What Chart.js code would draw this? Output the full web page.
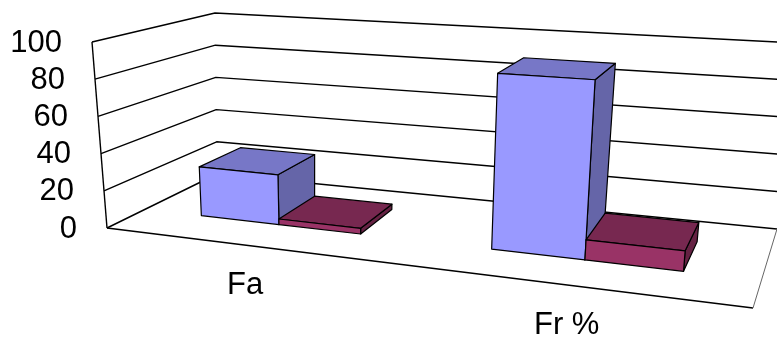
<!DOCTYPE html>
<html><head><meta charset="utf-8">
<script src="https://cdn.jsdelivr.net/npm/chart.js@4.4.0/dist/chart.umd.min.js"></script>
<style>html,body{margin:0;padding:0;background:#fff;}#wrap{width:777px;height:343px;}</style>
</head><body><div id="wrap"><canvas id="c" width="777" height="343"></canvas></div>
<script>
// ---- data ----
const categories = ['Fa', 'Fr %'];
const seriesBlue = [27, 90];
const seriesMagenta = [3, 10];
const yTicks = [0, 20, 40, 60, 80, 100];

// ---- 3D box layout (screen corners of the plot cube) ----
const BOX = {
  FLB: [107, 228], FLT: [92, 42], BLB: [217, 174], BLT: [215, 13],
  FRB: [753, 308], FRT: [773, 86], BRB: [777, 229], BRT: [797, 43]
};
const PERSP = 0.83;
const DEPTH = [0.35, 0.74];
const FONT = '31px "Liberation Sans", Arial, sans-serif';

function g(u) { return PERSP * u / (1 + (PERSP - 1) * u); }
function lerp(a, b, t) { return [a[0] + (b[0] - a[0]) * t, a[1] + (b[1] - a[1]) * t]; }
function P(u, v, w) {
  const us = g(u);
  const fl = lerp(BOX.FLB, BOX.FLT, v), bl = lerp(BOX.BLB, BOX.BLT, v);
  const fr = lerp(BOX.FRB, BOX.FRT, v), br = lerp(BOX.BRB, BOX.BRT, v);
  const l = lerp(fl, bl, w), r = lerp(fr, br, w);
  return lerp(l, r, us);
}
function shade(hex, f) {
  const n = parseInt(hex.slice(1), 16);
  const r = Math.round(((n >> 16) & 255) * f), gg = Math.round(((n >> 8) & 255) * f), b = Math.round((n & 255) * f);
  return 'rgb(' + r + ',' + gg + ',' + b + ')';
}

const plugin3d = {
  id: 'bars3d',
  beforeDatasetsDraw(chart) {
    const ctx = chart.ctx;
    const ys = chart.scales.y, xs = chart.scales.x;
    const nv = px => (ys.bottom - px) / (ys.bottom - ys.top);
    const nu = px => (px - xs.left) / (xs.right - xs.left);
    const poly = (pts, fill) => {
      ctx.beginPath();
      pts.forEach((p, i) => i ? ctx.lineTo(p[0], p[1]) : ctx.moveTo(p[0], p[1]));
      ctx.closePath();
      if (fill) { ctx.fillStyle = fill; ctx.fill(); }
      ctx.stroke();
    };
    const path = (pts) => {
      ctx.beginPath();
      pts.forEach((p, i) => i ? ctx.lineTo(p[0], p[1]) : ctx.moveTo(p[0], p[1]));
      ctx.stroke();
    };
    ctx.save();
    ctx.lineJoin = 'round';
    ctx.strokeStyle = '#000';
    ctx.lineWidth = 1.4;
    // walls + gridlines
    yTicks.forEach(t => {
      const v = nv(ys.getPixelForValue(t));
      path([P(0, v, 0), P(0, v, 1), P(1, v, 1)]);
    });
    path([P(0, 0, 0), P(0, 1, 0)]);
    path([P(0, 0, 0), P(1, 0, 0)]);
    ctx.strokeStyle = '#666';
    ctx.lineWidth = 1;
    path([P(1, 0, 0), P(1, 0, 1)]);
    // tick labels
    ctx.fillStyle = '#000';
    ctx.font = FONT;
    ctx.textAlign = 'right';
    ctx.textBaseline = 'middle';
    yTicks.forEach(t => {
      const v = nv(ys.getPixelForValue(t));
      const p = P(0, v, 0);
      ctx.fillText(String(t), p[0] - 30, p[1] + 1);
    });
    // bars
    ctx.strokeStyle = '#000';
    ctx.lineWidth = 1.2;
    const w0 = DEPTH[0], w1 = DEPTH[1];
    const nCat = chart.data.labels.length;
    const centers = [];
    for (let j = 0; j < nCat; j++) {
      let minU = 1, maxU = 0;
      chart.data.datasets.forEach((ds, i) => {
        const el = chart.getDatasetMeta(i).data[j];
        const u0 = nu(el.x - el.width / 2), u1 = nu(el.x + el.width / 2);
        const v = nv(el.y), vb = nv(el.base);
        minU = Math.min(minU, u0); maxU = Math.max(maxU, u1);
        const col = ds.backgroundColor;
        poly([P(u1, vb, w0), P(u1, vb, w1), P(u1, v, w1), P(u1, v, w0)], shade(col, 0.66));
        poly([P(u0, v, w0), P(u1, v, w0), P(u1, v, w1), P(u0, v, w1)], shade(col, 0.78));
        poly([P(u0, vb, w0), P(u1, vb, w0), P(u1, v, w0), P(u0, v, w0)], col);
      });
      centers.push([minU, maxU]);
    }
    // category labels
    ctx.textAlign = 'center';
    ctx.fillStyle = '#000';
    chart.data.labels.forEach((lab, j) => {
      const a = P(centers[j][0], 0, 0), b = P(centers[j][1], 0, 0);
      ctx.fillText(lab, (a[0] + b[0]) / 2 - 4, (a[1] + b[1]) / 2 + 40);
    });
    ctx.restore();
    return false;
  }
};

new Chart(document.getElementById('c'), {
  type: 'bar',
  data: {
    labels: categories,
    datasets: [
      { label: 'Serie 1', data: seriesBlue, backgroundColor: '#9999FF' },
      { label: 'Serie 2', data: seriesMagenta, backgroundColor: '#993366' }
    ]
  },
  options: {
    responsive: false,
    animation: false,
    devicePixelRatio: 1,
    layout: { padding: 0 },
    datasets: { bar: { categoryPercentage: 0.571, barPercentage: 1 } },
    plugins: { legend: { display: false }, tooltip: { enabled: false } },
    scales: {
      x: { display: false, offset: true },
      y: { display: false, min: 0, max: 100, ticks: { stepSize: 20 } }
    }
  },
  plugins: [plugin3d]
});
</script></body></html>
